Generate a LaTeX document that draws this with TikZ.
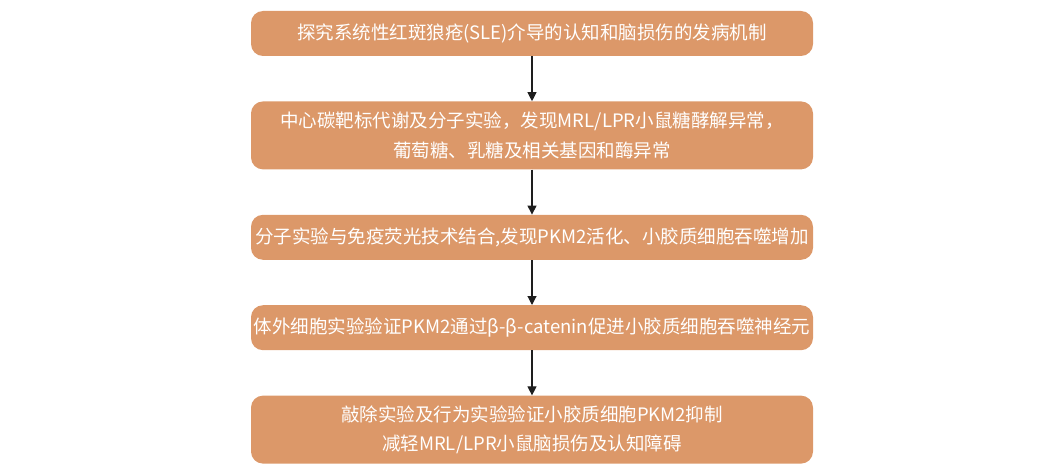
\documentclass[tikz,border=0pt]{standalone}
\usepackage{fontspec}
\newfontfamily\cjk{Noto Sans CJK SC}
\usepackage{tikz}
\usetikzlibrary{
    arrows.meta,
    positioning
}
\definecolor{boxorange}{RGB}{220,152,105}
\definecolor{arrowgray}{RGB}{30,30,30}

\begin{document}
\begin{tikzpicture}[
  node distance=45pt,
  stage/.style={rectangle,rounded corners=12pt,align=center,fill=boxorange,
    text=white,font=\cjk\fontsize{18.5}{29.5}\selectfont,
    minimum height=45pt,minimum width=562pt,inner sep=2pt},
  arrow/.style={-{Triangle[length=9pt,width=9pt]},line width=1.1pt,draw=arrowgray}
]
\useasboundingbox (0,0) rectangle (1044pt,-476pt);
\node[stage] (aim) at (532pt,-33.5pt) {探究系统性红斑狼疮(SLE)介导的认知和脑损伤的发病机制};
\node[stage, minimum height=68pt, below=of aim] (metab) {中心碳靶标代谢及分子实验，发现MRL/LPR小鼠糖酵解异常，\\葡萄糖、乳糖及相关基因和酶异常};
\node[stage, below=of metab] (immuno) {分子实验与免疫荧光技术结合,发现PKM2活化、小胶质细胞吞噬增加};
\node[stage, below=of immuno] (invitro) {体外细胞实验验证PKM2通过β-β-catenin促进小胶质细胞吞噬神经元};
\node[stage, minimum height=68pt, below=of invitro] (knock) {敲除实验及行为实验验证小胶质细胞PKM2抑制\\减轻MRL/LPR小鼠脑损伤及认知障碍};
\draw[arrow] (aim) -- (metab);
\draw[arrow] (metab) -- (immuno);
\draw[arrow] (immuno) -- (invitro);
\draw[arrow] (invitro) -- (knock);
\end{tikzpicture}
\end{document}
